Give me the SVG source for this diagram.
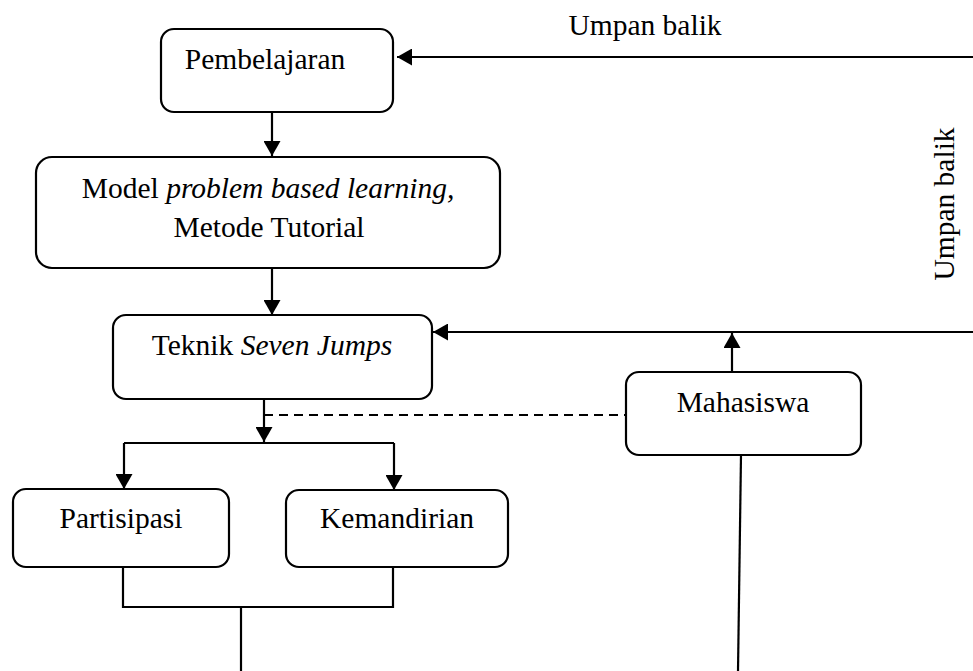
<svg xmlns="http://www.w3.org/2000/svg" width="973" height="671" viewBox="0 0 973 671">
<style>
.box{fill:#fff;stroke:#000;stroke-width:2.2}
.t{font-family:"Liberation Serif","Times New Roman",serif;font-size:29.5px;fill:#000}
.i{font-style:italic}
.c{fill:none;stroke:#000;stroke-width:2.2}
.d{stroke-dasharray:9 6}
</style>
<defs>
<marker id="ah" viewBox="0 0 15 17" refX="15" refY="8.5" markerWidth="15" markerHeight="17" markerUnits="userSpaceOnUse" orient="auto">
<path d="M0,0 L15,8.5 L0,17 z" fill="#000"/>
</marker>
</defs>
<rect width="973" height="671" fill="#fff"/>
<g id="connectors">
<path class="c" d="M272,112 V156" marker-end="url(#ah)"/>
<path class="c" d="M272,268 V315" marker-end="url(#ah)"/>
<path class="c" d="M264,399 V442" marker-end="url(#ah)"/>
<path class="c" d="M124,443 H394"/>
<path class="c" d="M124,443 V489" marker-end="url(#ah)"/>
<path class="c" d="M394,443 V490" marker-end="url(#ah)"/>
<path class="c d" d="M264,415 H626"/>
<path class="c" d="M732,372 V333" marker-end="url(#ah)"/>
<path class="c" d="M973,332 H433" marker-end="url(#ah)"/>
<path class="c" d="M973,57 H397" marker-end="url(#ah)"/>
<path class="c" d="M123,567 V607 H393 V567"/>
<path class="c" d="M241,607 V671"/>
<path class="c" d="M741,455 L738,671"/>
<text class="t" x="645" y="35" text-anchor="middle">Umpan balik</text>
<text class="t" transform="translate(954,204) rotate(-90)" text-anchor="middle">Umpan balik</text>
</g>
<g id="pembelajaran">
<rect class="box" x="161" y="29" width="232" height="83" rx="13"/>
<text class="t" x="265" y="69" text-anchor="middle">Pembelajaran</text>
</g>
<g id="model">
<rect class="box" x="36" y="157" width="464" height="111" rx="16"/>
<text class="t" x="268" y="198" text-anchor="middle">Model <tspan class="i">problem based learning,</tspan></text>
<text class="t" x="269" y="237" text-anchor="middle">Metode Tutorial</text>
</g>
<g id="teknik">
<rect class="box" x="113" y="315" width="319" height="84" rx="13"/>
<text class="t" x="272" y="355" text-anchor="middle">Teknik <tspan class="i">Seven Jumps</tspan></text>
</g>
<g id="partisipasi">
<rect class="box" x="13" y="489" width="216" height="78" rx="13"/>
<text class="t" x="121" y="528" text-anchor="middle">Partisipasi</text>
</g>
<g id="kemandirian">
<rect class="box" x="286" y="490" width="222" height="77" rx="13"/>
<text class="t" x="397" y="528" text-anchor="middle">Kemandirian</text>
</g>
<g id="mahasiswa">
<rect class="box" x="626" y="372" width="235" height="83" rx="13"/>
<text class="t" x="743" y="412" text-anchor="middle">Mahasiswa</text>
</g>
</svg>
